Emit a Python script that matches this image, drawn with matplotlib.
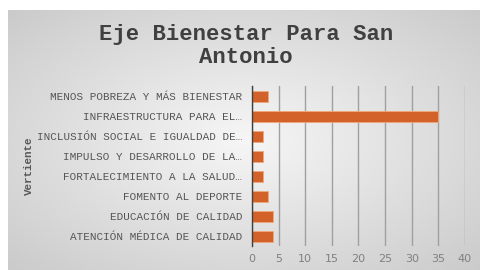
import numpy as np
import matplotlib.pyplot as plt

# data (bottom to top as drawn)
vertientes = ['ATENCIÓN MÉDICA DE CALIDAD',
              'EDUCACIÓN DE CALIDAD',
              'FOMENTO AL DEPORTE',
              'FORTALECIMIENTO A LA SALUD…',
              'IMPULSO Y DESARROLLO DE LA…',
              'INCLUSIÓN SOCIAL E IGUALDAD DE…',
              'INFRAESTRUCTURA PARA EL…',
              'MENOS POBREZA Y MÁS BIENESTAR']
valores = [4, 4, 3, 2, 2, 2, 35, 3]
xticks = [0, 5, 10, 15, 20, 25, 30, 35, 40]

plt.rcParams['font.family'] = ['Liberation Mono', 'DejaVu Sans Mono']

fig = plt.figure(figsize=(4.81, 2.70), dpi=100)
fig.patch.set_facecolor('white')

# gray radial backdrop, light in the middle, darker at the edges
bg = fig.add_axes([8/481, 0, 1 - 8/481, 260/270])
yy, xx = np.mgrid[-1:1:200j, -1:1:300j]
r = np.sqrt(xx**2 + yy**2) / np.sqrt(2)
g = 0.965 - 0.17 * r
bg.imshow(np.dstack([g, g, g]), aspect='auto', extent=[0, 1, 0, 1],
          interpolation='bilinear')
bg.axis('off')

ax = fig.add_axes([252/481, 24/270, 213/481, 160/270])
ax.set_facecolor('none')
y = np.arange(len(vertientes))
ax.barh(y, valores, height=0.55, color='#d2622a', edgecolor='#f0a878',
        linewidth=0.6, zorder=3)
ax.set_yticks(y)
ax.set_yticklabels(vertientes, fontsize=7.9, color='#555555')
ax.set_ylim(-0.5, len(vertientes) - 0.5)
ax.set_xlim(0, 40)
ax.set_xticks(xticks)
ax.set_xticklabels([str(t) for t in xticks], fontsize=8, color='#808080',
                   family=['DejaVu Sans'])
ax.tick_params(axis='y', length=0, pad=7)
ax.tick_params(axis='x', length=0, pad=6)
ax.grid(axis='x', color='#a0a0a0', linewidth=1.0, zorder=0)
for s in ['top', 'right', 'bottom']:
    ax.spines[s].set_visible(False)
ax.spines['left'].set_color('#404040')
ax.spines['left'].set_linewidth(1.0)
ax.spines['left'].set_zorder(4)

fig.text(29/481, 1 - 166/270, 'Vertiente', rotation=90, fontsize=7.8,
         fontweight='bold', color='#595959', ha='center', va='center')

fig.text(246/481, 1 - 46/270, 'Eje Bienestar Para San\nAntonio', fontsize=16,
         fontweight='bold', color='#404040', ha='center', va='center',
         linespacing=1.15)

fig.savefig('out.png', dpi=100)
